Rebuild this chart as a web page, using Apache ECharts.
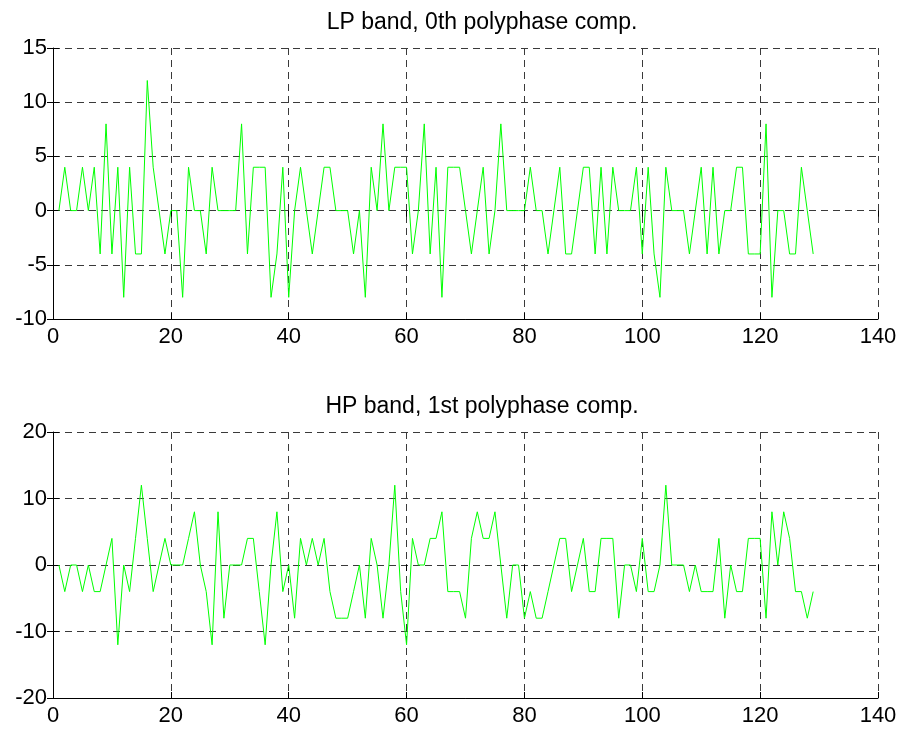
<!DOCTYPE html>
<html>
<head>
<meta charset="utf-8">
<script src="https://cdn.jsdelivr.net/npm/echarts@6/dist/echarts.min.js"></script>
<style>
  html, body { margin: 0; padding: 0; background: #fff; }
  #chart { width: 905px; height: 734px; }
</style>
</head>
<body>
<div id="chart"></div>
<script>
// LP band, 0th polyphase component (samples 1..129)
const lpValues = [
  0, 4, 0, 0, 4, 0, 4, -4, 8, -4,
  4, -8, 4, -4, -4, 12, 4, 0, -4, 0,
  0, -8, 4, 0, 0, -4, 4, 0, 0, 0,
  0, 8, -4, 4, 4, 4, -8, -4, 4, -8,
  0, 4, 0, -4, 0, 4, 4, 0, 0, 0,
  -4, 0, -8, 4, 0, 8, 0, 4, 4, 4,
  -4, 0, 8, -4, 4, -8, 4, 4, 4, 0,
  -4, 0, 4, -4, 0, 8, 0, 0, 0, 0,
  4, 0, 0, -4, 0, 4, -4, -4, 0, 4,
  4, -4, 4, -4, 4, 0, 0, 0, 4, -4,
  4, -4, -8, 4, 0, 0, 0, -4, 0, 4,
  -4, 4, -4, 0, 0, 4, 4, -4, -4, -4,
  8, -8, 0, 0, -4, -4, 4, 0, -4
];

// HP band, 1st polyphase component (samples 1..129)
const hpValues = [
  0, -4, 0, 0, -4, 0, -4, -4, 0, 4,
  -12, 0, -4, 4, 12, 4, -4, 0, 4, 0,
  0, 0, 4, 8, 0, -4, -12, 8, -8, 0,
  0, 0, 4, 4, -4, -12, 0, 8, -4, 0,
  -8, 4, 0, 4, 0, 4, -4, -8, -8, -8,
  -4, 0, -8, 4, 0, -8, 0, 12, -4, -12,
  4, 0, 0, 4, 4, 8, -4, -4, -4, -8,
  4, 8, 4, 4, 8, 0, -8, 0, 0, -8,
  -4, -8, -8, -4, 0, 4, 4, -4, 0, 4,
  -4, -4, 4, 4, 4, -8, 0, 0, -4, 4,
  -4, -4, 0, 12, 0, 0, 0, -4, 0, -4,
  -4, -4, 4, -8, 0, -4, -4, 4, 4, 4,
  -8, 8, 0, 8, 4, -4, -4, -8, -4
];

const titles = ['LP band, 0th polyphase comp.', 'HP band, 1st polyphase comp.'];

const xRange = { min: 0, max: 140, interval: 20 };
const lpRange = { min: -10, max: 15, interval: 5 };
const hpRange = { min: -20, max: 20, interval: 10 };

const FONT = '"Liberation Sans", Arial, Helvetica, sans-serif';
const gridColor = '#3a3a3a';

function toPairs(values) {
  return values.map((v, i) => [i + 1, v]);
}

const chart = echarts.init(document.getElementById('chart'), null, { renderer: 'canvas' });

const grids = [
  { left: 53, top: 48, width: 825, height: 271 },
  { left: 53, top: 432, width: 825, height: 266 }
];

function mainX(gridIndex) {
  return {
    type: 'value', gridIndex, min: xRange.min, max: xRange.max, interval: xRange.interval,
    position: 'bottom',
    axisLine: { show: true, onZero: false, lineStyle: { color: '#000', width: 1 } },
    axisTick: { show: true, inside: true, length: 6, lineStyle: { color: '#000' } },
    axisLabel: { color: '#000', fontSize: 22, fontFamily: FONT, margin: 7 },
    splitLine: { show: true, lineStyle: { color: gridColor, type: [7, 5], width: 1 } }
  };
}
function sideX(gridIndex) {
  return {
    type: 'value', gridIndex, min: xRange.min, max: xRange.max, interval: xRange.interval,
    position: 'top',
    axisLine: { show: false },
    axisTick: { show: true, inside: true, length: 6, lineStyle: { color: '#000' } },
    axisLabel: { show: false },
    splitLine: { show: false }
  };
}
function mainY(gridIndex, r) {
  return {
    type: 'value', gridIndex, min: r.min, max: r.max, interval: r.interval,
    position: 'left',
    axisLine: { show: true, onZero: false, lineStyle: { color: '#000', width: 1 } },
    axisTick: { show: true, inside: true, length: 6, lineStyle: { color: '#000' } },
    axisLabel: { color: '#000', fontSize: 22, fontFamily: FONT, margin: 6 },
    splitLine: { show: true, lineStyle: { color: gridColor, type: [7, 5], width: 1 } }
  };
}
function sideY(gridIndex, r) {
  return {
    type: 'value', gridIndex, min: r.min, max: r.max, interval: r.interval,
    position: 'right',
    axisLine: { show: false },
    axisTick: { show: true, inside: true, length: 6, lineStyle: { color: '#000' } },
    axisLabel: { show: false },
    splitLine: { show: false }
  };
}

const option = {
  backgroundColor: '#ffffff',
  animation: false,
  title: [
    { text: titles[0], left: 477, top: 6, textAlign: 'center',
      textStyle: { fontSize: 23, fontWeight: 'normal', color: '#000', fontFamily: FONT } },
    { text: titles[1], left: 477, top: 390, textAlign: 'center',
      textStyle: { fontSize: 23, fontWeight: 'normal', color: '#000', fontFamily: FONT } }
  ],
  grid: grids,
  xAxis: [mainX(0), mainX(1), sideX(0), sideX(1)],
  yAxis: [mainY(0, lpRange), mainY(1, hpRange), sideY(0, lpRange), sideY(1, hpRange)],
  series: [
    {
      name: titles[0], type: 'line', xAxisIndex: 0, yAxisIndex: 0,
      data: toPairs(lpValues), showSymbol: false, symbol: 'none',
      lineStyle: { color: '#00ff00', width: 1 }, z: 5
    },
    {
      name: titles[1], type: 'line', xAxisIndex: 1, yAxisIndex: 1,
      data: toPairs(hpValues), showSymbol: false, symbol: 'none',
      lineStyle: { color: '#00ff00', width: 1 }, z: 5
    }
  ]
};

chart.setOption(option);
</script>
</body>
</html>
